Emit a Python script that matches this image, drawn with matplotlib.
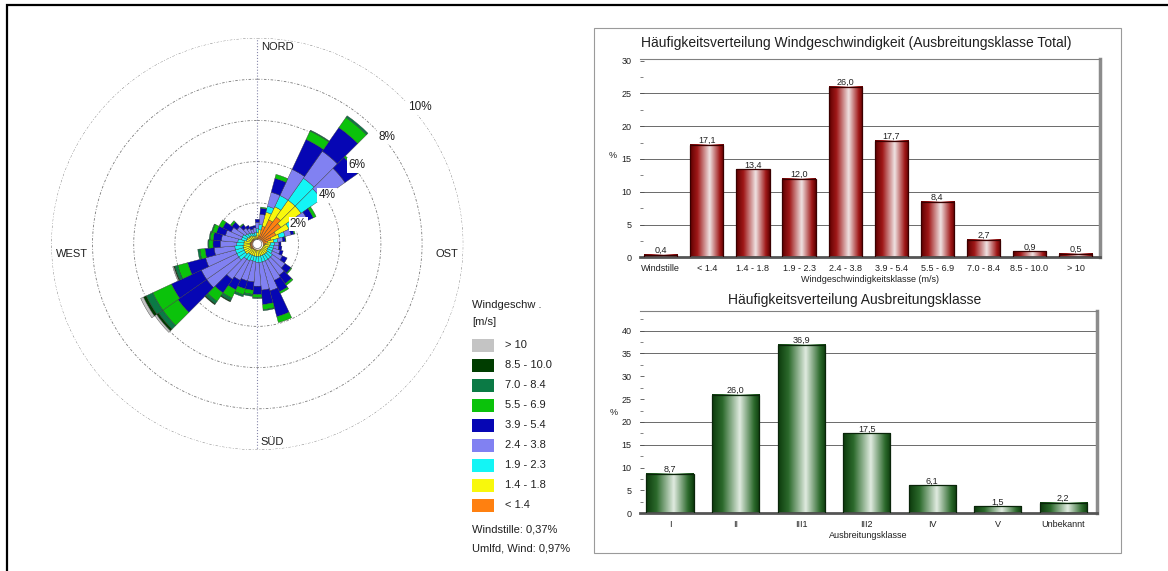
import numpy as np
import matplotlib
matplotlib.use('Agg')
import matplotlib.pyplot as plt
from matplotlib.colors import LinearSegmentedColormap
from matplotlib.patches import Rectangle
from matplotlib.ticker import MultipleLocator

plt.rcParams['font.family'] = ['Liberation Sans', 'DejaVu Sans']

# --- wind rose: 36 sectors of 10 deg, frequency in % per speed class ---
directions = np.arange(0, 360, 10)
rose_lt_1_4 = [0.3, 0.4, 0.9, 1.3, 1.6, 1.4, 1.0, 0.7, 0.5, 0.4,
               0.35, 0.3, 0.3, 0.3, 0.3, 0.3, 0.3, 0.3, 0.3, 0.3,
               0.3, 0.3, 0.3, 0.35, 0.35, 0.35, 0.35, 0.35, 0.35, 0.3,
               0.3, 0.3, 0.3, 0.25, 0.25, 0.25]
rose_1_4_1_8 = [0.25, 0.3, 0.7, 0.7, 1.0, 1.2, 0.7, 0.4, 0.3, 0.25,
                0.25, 0.25, 0.25, 0.3, 0.3, 0.3, 0.3, 0.3, 0.3, 0.3,
                0.3, 0.3, 0.3, 0.35, 0.35, 0.35, 0.35, 0.3, 0.3, 0.25,
                0.25, 0.2, 0.2, 0.2, 0.15, 0.15]
rose_1_9_2_3 = [0.2, 0.25, 0.3, 0.6, 1.3, 1.2, 0.5, 0.3, 0.2, 0.2,
                0.2, 0.25, 0.25, 0.3, 0.3, 0.3, 0.3, 0.3, 0.3, 0.25,
                0.25, 0.3, 0.3, 0.4, 0.4, 0.4, 0.4, 0.35, 0.3, 0.25,
                0.25, 0.2, 0.15, 0.15, 0.15, 0.15]
rose_2_4_3_8 = [0.3, 0.5, 0.7, 1.4, 1.6, 1.4, 0.5, 0.3, 0.25, 0.2,
                0.25, 0.35, 0.55, 0.75, 0.95, 1.05, 1.45, 1.35, 1.15, 1.0,
                1.0, 1.05, 1.2, 1.9, 1.9, 1.5, 1.0, 0.8, 0.8, 0.8,
                0.6, 0.5, 0.3, 0.25, 0.2, 0.25]
rose_3_9_5_4 = [0.15, 0.3, 0.7, 1.6, 1.4, 0.75, 0.3, 0.15, 0.12, 0.1,
                0.15, 0.15, 0.25, 0.35, 0.5, 0.6, 1.3, 0.7, 0.4, 0.4,
                0.4, 0.5, 0.8, 1.7, 1.6, 0.9, 0.45, 0.35, 0.4, 0.45,
                0.45, 0.3, 0.2, 0.15, 0.15, 0.1]
rose_5_5_6_9 = [0, 0.05, 0.2, 0.45, 0.6, 0.1, 0.15, 0.05, 0.03, 0,
                0, 0, 0, 0.05, 0.1, 0.1, 0.3, 0.25, 0.15, 0.2,
                0.3, 0.45, 0.5, 0.9, 1.0, 0.5, 0.25, 0.2, 0.15, 0.2,
                0.2, 0.1, 0.05, 0, 0, 0]
rose_7_0_8_4 = [0, 0, 0, 0.05, 0.1, 0, 0, 0, 0, 0,
                0, 0, 0, 0, 0, 0, 0, 0.05, 0.05, 0.1,
                0.1, 0.15, 0.15, 0.25, 0.35, 0.15, 0.1, 0.05, 0.05, 0.05,
                0, 0, 0, 0, 0, 0]
rose_8_5_10 = [0, 0, 0, 0, 0, 0, 0, 0, 0, 0,
               0, 0, 0, 0, 0, 0, 0, 0, 0, 0,
               0, 0.05, 0.05, 0.12, 0.15, 0.05, 0, 0, 0, 0,
               0, 0, 0, 0, 0, 0]
rose_gt_10 = [0, 0, 0, 0, 0, 0, 0, 0, 0, 0,
              0, 0, 0, 0, 0, 0, 0, 0, 0, 0,
              0, 0, 0, 0.1, 0.15, 0.05, 0, 0, 0, 0,
              0, 0, 0, 0, 0, 0]
rose_classes = [rose_lt_1_4, rose_1_4_1_8, rose_1_9_2_3, rose_2_4_3_8, rose_3_9_5_4,
                rose_5_5_6_9, rose_7_0_8_4, rose_8_5_10, rose_gt_10]

speed_classes = ['< 1.4', '1.4 - 1.8', '1.9 - 2.3', '2.4 - 3.8', '3.9 - 5.4',
                 '5.5 - 6.9', '7.0 - 8.4', '8.5 - 10.0', '> 10']
speed_colors = ['#ff8010', '#f8f80c', '#13f5f5', '#8181f2', '#0606b4',
                '#0bc20b', '#0b7a45', '#003d00', '#c4c4c4']
ring_levels = [2, 4, 6, 8, 10]
calm_pct = 0.37
variable_pct = 0.97

# --- frequency distributions ---
wind_cats = ['Windstille'] + speed_classes
wind_freq = [0.4, 17.1, 13.4, 12.0, 26.0, 17.7, 8.4, 2.7, 0.9, 0.5]
stab_cats = ['I', 'II', 'III1', 'III2', 'IV', 'V', 'Unbekannt']
stab_freq = [8.7, 26.0, 36.9, 17.5, 6.1, 1.5, 2.2]

W, H = 1168, 571
fig = plt.figure(figsize=(W / 100, H / 100), dpi=100)


def frac(x0, y0, x1, y1):
    # pixel box (top-left origin) -> figure fraction rect
    return [x0 / W, 1 - y1 / H, (x1 - x0) / W, (y1 - y0) / H]


# ---------------- wind rose ----------------
ax = fig.add_axes(frac(51.3, 38, 463.3, 450), projection='polar')
ax.set_theta_zero_location('N')
ax.set_theta_direction(-1)
ax.set_axis_off()

th = np.linspace(0, 2 * np.pi, 721)
for r in ring_levels:
    ax.plot(th, np.full_like(th, r), color='#7a7a7a', lw=0.6, ls=(0, (3, 2, 1, 2)), zorder=1)
ax.plot([0, 0], [0, 10], color='#8888aa', lw=0.8, ls=':', zorder=1)
ax.plot([np.pi, np.pi], [0, 10], color='#8888aa', lw=0.8, ls=':', zorder=1)

theta = np.radians(directions)
bottom = np.zeros(len(directions))
for vals, col in zip(rose_classes, speed_colors):
    vals = np.array(vals)
    ax.bar(theta, vals, width=np.radians(10), bottom=bottom, color=col,
           edgecolor='#303030', linewidth=[0.25 if v > 0 else 0 for v in vals], zorder=2)
    bottom += vals

ax.fill_between(th, 0, 0.22, color='white', zorder=3)
ax.plot(th, np.full_like(th, 0.22), color='#606060', lw=0.5, zorder=3)

label_pos = [(64, 2.21), (54.8, 4.13), (51.7, 6.16), (50.3, 8.15), (49.8, 10.3)]
for r, (ang, rad) in zip(ring_levels, label_pos):
    ax.text(np.radians(ang), rad, f'{r}%', ha='center', va='center', fontsize=8.5,
            color='#202020', zorder=5,
            bbox=dict(boxstyle='square,pad=0.1', fc='white', ec='none'))
ax.set_ylim(0, 10)


# ---------------- bar charts ----------------
def cylinder_bars(ax, values, dark, mid, light, edge):
    cmap = LinearSegmentedColormap.from_list(
        'cyl', [(0, dark), (0.22, mid), (0.58, light), (0.88, mid), (1, dark)])
    bars = ax.bar(np.arange(len(values)), values, width=0.72, facecolor='none',
                  edgecolor=edge, linewidth=0.9, zorder=3)
    grad = np.linspace(0, 1, 256).reshape(1, -1)
    for b in bars:
        x0, w, h = b.get_x(), b.get_width(), b.get_height()
        ax.imshow(grad, extent=(x0, x0 + w, 0, h), aspect='auto', cmap=cmap,
                  interpolation='bilinear', zorder=2)
        ax.text(x0 + w / 2, h, f'{h:.1f}'.replace('.', ','), ha='center', va='bottom',
                fontsize=6.5, color='#202020', zorder=4)


def style_bars(ax, cats, ymax, ystep, grid_levels, mark_idx, xlabel, xlim):
    for g in grid_levels:
        ax.axhline(g, color='#6a6a6a', lw=0.7, zorder=1)
    ax.set_axisbelow(False)
    ax.spines['left'].set_visible(False)
    ax.spines['bottom'].set_linewidth(2)
    ax.spines['bottom'].set_color('#555555')
    ax.spines['right'].set_linewidth(2.5)
    ax.spines['right'].set_color('#8c8c8c')
    ax.spines['top'].set_linewidth(0.8)
    ax.spines['top'].set_color('#808080')
    ax.set_yticks(np.arange(0, ymax + 0.1, ystep))
    ax.yaxis.set_minor_locator(MultipleLocator(ystep / 2))
    ax.tick_params(axis='y', which='major', direction='in', length=3, width=0.6,
                   color='#505050', pad=6, labelsize=6.5, labelcolor='#202020')
    ax.tick_params(axis='y', which='minor', direction='in', length=2, width=0.5, color='#505050')
    ax.set_xticks(np.arange(len(cats)))
    ax.set_xticklabels(cats)
    ax.set_xticks(mark_idx, minor=True)
    ax.tick_params(axis='x', which='major', length=0, pad=5, labelsize=6.5, labelcolor='#202020')
    ax.tick_params(axis='x', which='minor', direction='inout', length=11, width=0.9, color='#404040')
    ax.set_xlabel(xlabel, fontsize=6.5, labelpad=1, color='#202020')
    ax.set_xlim(*xlim)


ax1 = fig.add_axes(frac(640, 58.7, 1100, 257.3))
cylinder_bars(ax1, wind_freq, '#5e0000', '#a01818', '#efe2e2', '#3a0000')
style_bars(ax1, wind_cats, 30, 5, [5, 10, 15, 20, 25], [2, 5, 8],
           'Windgeschwindigkeitsklasse (m/s)', (-0.45, 9.53))
ax1.set_ylim(0, 30.3)

ax2 = fig.add_axes(frac(640, 311, 1096.7, 513.3))
cylinder_bars(ax2, stab_freq, '#0c3a0c', '#2c6a2c', '#e0ebe0', '#0a250a')
style_bars(ax2, stab_cats, 40, 5, [15, 20, 35, 40], [0, 4, 5],
           'Ausbreitungsklasse', (-0.458, 6.51))
ax2.set_ylim(0, 44.3)

# ---------------- overlay in pixel coordinates ----------------
ov = fig.add_axes([0, 0, 1, 1], zorder=10)
ov.set_xlim(0, W)
ov.set_ylim(H, 0)
ov.axis('off')
ov.patch.set_alpha(0)

ov.plot([6.5, 6.5, W], [H, 4.5, 4.5], color='black', lw=1.6, solid_joinstyle='miter')
ov.add_patch(Rectangle((594, 28), 1121 - 594, 553 - 28, fill=False, ec='#9a9a9a', lw=0.8))

txt = dict(fontsize=8, color='#202020', va='center', ha='left')
ov.text(260.7, 46.7, 'NORD', **txt)
ov.text(260.7, 441.7, 'SÜD', **txt)
ov.text(55.7, 253.7, 'WEST', **txt)
ov.text(435.3, 253.7, 'OST', **txt)

ov.text(472, 305, 'Windgeschw .', **txt)
ov.text(472, 321.7, '[m/s]', **txt)
for i, (lab, col) in enumerate(zip(speed_classes[::-1], speed_colors[::-1])):
    yc = 345 + 20 * i
    ov.add_patch(Rectangle((472, yc - 6.5), 22, 13, fc=col, ec='none'))
    ov.text(505, yc, lab, **txt)
ov.text(472, 530, f'Windstille: {calm_pct:.2f}%'.replace('.', ','), **txt)
ov.text(472, 548.3, f'Umlfd. Wind: {variable_pct:.2f}%'.replace('.', ','), **txt)

ov.text(856.7, 42.7, 'Häufigkeitsverteilung Windgeschwindigkeit (Ausbreitungsklasse Total)',
        fontsize=10, color='#202020', ha='center', va='center')
ov.text(855, 300, 'Häufigkeitsverteilung Ausbreitungsklasse',
        fontsize=10, color='#202020', ha='center', va='center')
ov.text(613, 156, '%', fontsize=6.5, color='#202020', ha='center', va='center')
ov.text(613.3, 412.7, '%', fontsize=6.5, color='#202020', ha='center', va='center')

fig.savefig('out.png', dpi=100)
